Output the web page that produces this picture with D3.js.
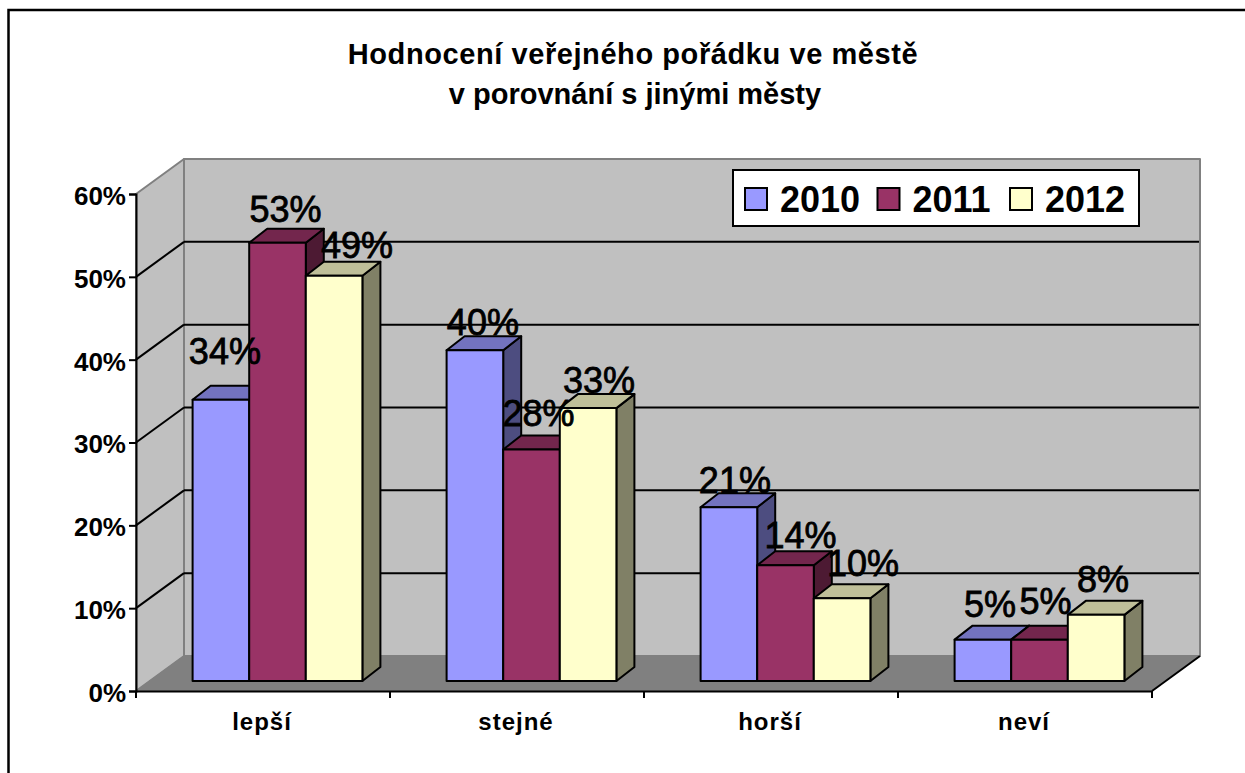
<!DOCTYPE html>
<html><head><meta charset="utf-8">
<script src="https://d3js.org/d3.v7.min.js"></script>
<style>html,body{margin:0;background:#fff;overflow:hidden}svg{display:block}text{font-family:"Liberation Sans",Arial,sans-serif;fill:#000}</style>
</head><body><svg id="c" width="1245" height="773"></svg>
<script>
const categories=["lepší","stejné","horší","neví"];
const seriesNames=["2010","2011","2012"];
const values2010=[34,40,21,5];
const values2011=[53,28,14,5];
const values2012=[49,33,10,8];
const yTicks=[0,10,20,30,40,50,60];
const titleLines=["Hodnocení veřejného pořádku ve městě","v porovnání s jinými městy"];
const titleSpacing=[0.58,0];
const colors=["#9999FF","#993366","#FFFFCC"];
const topColors=["#7373BF","#73264D","#BFBF99"];
const sideColors=["#4D4D80","#4D1A33","#808066"];
const series=[values2010,values2011,values2012];
// hand-placed data label nudges, as in the original chart
const labelNudgeX=[[-2,2,17],[2,1,5],[0,9,15],[1,0,1]];
const labelNudgeY=[[-12,3,6],[9,1,9],[10,7,2],[1,-2,1]];

const svg=d3.select("#c");
svg.append("path").attr("d","M8.5,790V10H1260").attr("fill","none").attr("stroke","#000").attr("stroke-width",2.5);

const x=d3.scaleBand().domain(categories).range([136,1152]);
const y=d3.scaleLinear().domain([0,60]).range([691,194]);
const depth={dx:48,dy:-35};
const barDepth={dx:18,dy:-14};
const yBar=d3.scaleLinear().domain([0,60]).range([681,184.8]);
const barW=56.6, barOff=56.6;
const poly=(pts,fill,stroke)=>svg.append("polygon").attr("points",pts.map(p=>p.join(",")).join(" ")).attr("fill",fill).attr("stroke",stroke).attr("stroke-linejoin","round");

// walls
const bx=136+depth.dx, bRight=1152+depth.dx;
const yb=v=>y(v)+depth.dy;
poly([[bx,yb(0)],[bRight,yb(0)],[bRight,yb(60)],[bx,yb(60)]],"#C0C0C0","#808080").attr("stroke-width",2);
poly([[136,y(0)],[bx,yb(0)],[bx,yb(60)],[136,y(60)]],"#C0C0C0","#808080").attr("stroke-width",2);
poly([[136,y(0)],[1152,y(0)],[bRight,yb(0)],[bx,yb(0)]],"#808080","#808080");

// gridlines
yTicks.slice(1,-1).forEach(t=>{
  svg.append("line").attr("x1",136).attr("y1",y(t)).attr("x2",bx).attr("y2",yb(t)).attr("stroke","#000").attr("stroke-width",2);
  svg.append("line").attr("x1",bx).attr("y1",yb(t)).attr("x2",bRight-1).attr("y2",yb(t)).attr("stroke","#000").attr("stroke-width",2);
});
svg.append("line").attr("x1",1152).attr("y1",y(0)).attr("x2",bRight).attr("y2",yb(0)).attr("stroke","#000").attr("stroke-width",2);

// axes
const yAxis=d3.axisLeft(y).tickValues(yTicks).tickSize(7).tickPadding(3).tickFormat(d=>d+"%");
const gy=svg.append("g").attr("transform","translate(136,0)").call(yAxis);
const xAxis=d3.axisBottom(x).tickSize(0).tickPadding(22);
const gx=svg.append("g").attr("transform",`translate(-1,${y(0)})`).call(xAxis);
[gy,gx].forEach(g=>{g.selectAll("path,line").attr("stroke","#000").attr("stroke-width",2);g.selectAll("text").attr("font-size",26).attr("font-weight","bold").attr("font-family",'"Liberation Sans"');});
gy.selectAll("text").attr("dy","0.4em");
gx.selectAll("text").attr("font-size",24).attr("letter-spacing",1).attr("dy","0.71em");
gx.select("path").attr("transform","translate(1,0)");
d3.range(5).forEach(i=>{const tx=136+i*x.bandwidth();svg.append("line").attr("x1",tx).attr("x2",tx).attr("y1",y(0)).attr("y2",y(0)+7).attr("stroke","#000").attr("stroke-width",2);});

// bars
const labels=[];
categories.forEach((c,ci)=>{
  seriesNames.forEach((s,si)=>{
    const v=series[si][ci];
    const x0=x(c)+barOff+si*barW, x1=x0+barW, y0=yBar(0), y1=yBar(v), d=barDepth;
    poly([[x1,y1],[x1+d.dx,y1+d.dy],[x1+d.dx,y0+d.dy],[x1,y0]],sideColors[si],"#000").attr("stroke-width",2);
    poly([[x0,y1],[x0+d.dx,y1+d.dy],[x1+d.dx,y1+d.dy],[x1,y1]],topColors[si],"#000").attr("stroke-width",2);
    poly([[x0,y1],[x1,y1],[x1,y0],[x0,y0]],colors[si],"#000").attr("stroke-width",2);
    labels.push({x:x0+barW/2+6+labelNudgeX[ci][si],y:y1-24+labelNudgeY[ci][si],t:v+"%"});
  });
});
labels.forEach(l=>svg.append("text").attr("x",l.x).attr("y",l.y).attr("text-anchor","middle").attr("font-size",36).attr("stroke","#000").attr("stroke-width",0.8).text(l.t));

// title
titleLines.forEach((t,i)=>svg.append("text").attr("x",633+i*2).attr("y",64+i*40).attr("text-anchor","middle").attr("font-size",29).attr("letter-spacing",titleSpacing[i]).attr("font-weight","bold").text(t));

// legend
svg.append("rect").attr("x",733).attr("y",170).attr("width",406).attr("height",56).attr("fill","#fff").attr("stroke","#000").attr("stroke-width",2);
seriesNames.forEach((s,i)=>{
  const lx=745+i*132.5;
  svg.append("rect").attr("x",lx).attr("y",188).attr("width",22).attr("height",22).attr("fill",colors[i]).attr("stroke","#000").attr("stroke-width",2);
  svg.append("text").attr("x",lx+35).attr("y",212).attr("font-size",36).attr("font-weight","bold").text(s);
});
</script></body></html>
